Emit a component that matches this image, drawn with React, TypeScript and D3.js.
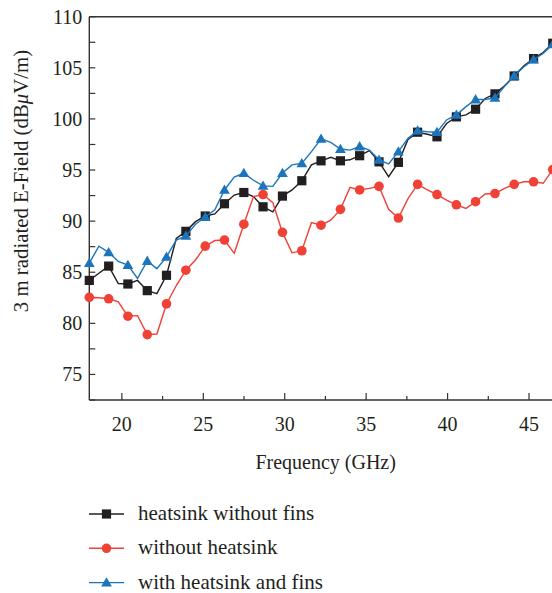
import React from "react";
import * as d3 from "d3";

// Frequency sample points (GHz)
const freqs = [
  18.0, 18.59, 19.19, 19.78, 20.37, 20.96, 21.56, 22.15, 22.74, 23.34,
  23.93, 24.52, 25.12, 25.71, 26.3, 26.9, 27.49, 28.08, 28.67, 29.27,
  29.86, 30.45, 31.05, 31.64, 32.23, 32.83, 33.42, 34.01, 34.6, 35.2,
  35.79, 36.38, 36.98, 37.57, 38.16, 38.76, 39.35, 39.94, 40.54, 41.13,
  41.72, 42.31, 42.91, 43.5, 44.09, 44.69, 45.28, 45.87, 46.46,
];

// Radiated E-field, dBμV/m
const heatsinkWithoutFins = [
  84.2, 84.9, 85.6, 83.9, 83.85, 84.2, 83.2, 82.9, 84.7, 88.3,
  89.0, 89.95, 90.5, 90.7, 91.7, 92.55, 92.8, 92.4, 91.4, 90.9,
  92.45, 93.05, 93.95, 95.5, 95.9, 96.25, 95.9, 96.0, 96.4, 96.9,
  95.8, 94.35, 95.75, 98.0, 98.7, 98.5, 98.25, 99.55, 100.2, 100.4,
  100.95, 102.0, 102.45, 103.25, 104.2, 105.2, 105.9, 106.5, 107.4,
];

const withoutHeatsink = [
  82.55, 82.5, 82.4, 82.1, 80.7, 80.75, 78.9, 78.95, 81.9, 83.7,
  85.2, 86.2, 87.55, 88.1, 88.15, 86.85, 89.7, 92.4, 92.6, 91.8,
  88.9, 86.9, 87.1, 89.85, 89.6, 90.1, 91.15, 93.3, 93.05, 93.2,
  93.4, 91.15, 90.3, 92.2, 93.6, 93.05, 92.6, 92.05, 91.6, 91.25,
  91.9, 92.65, 92.7, 93.2, 93.6, 93.85, 93.85, 93.7, 95.05,
];

const withHeatsinkAndFins = [
  85.9, 87.55, 86.95, 86.05, 85.7, 84.4, 86.1, 85.35, 86.5, 88.15,
  88.55, 89.7, 90.4, 91.1, 93.05, 94.3, 94.7, 94.0, 93.45, 93.4,
  94.7, 95.5, 95.65, 96.8, 98.05, 97.7, 97.05, 96.95, 97.3, 96.95,
  96.0, 95.6, 96.8, 98.1, 98.85, 98.75, 98.7, 99.9, 100.4, 101.2,
  101.9, 101.9, 102.05, 103.2, 104.2, 105.1, 105.8, 106.4, 107.3,
];

const xTicks = [20, 25, 30, 35, 40, 45];
const xMinorTicks = [22.5, 27.5, 32.5, 37.5, 42.5];
const yTicks = [75, 80, 85, 90, 95, 100, 105, 110];
const yMinorTicks = [72.5, 77.5, 82.5, 87.5, 92.5, 97.5, 102.5, 107.5];

const seriesLabels = ["heatsink without fins", "without heatsink", "with heatsink and fins"];

type Marker = "square" | "circle" | "triangle";

const series: { name: string; values: number[]; color: string; marker: Marker }[] = [
  { name: seriesLabels[0], values: heatsinkWithoutFins, color: "#231f20", marker: "square" },
  { name: seriesLabels[1], values: withoutHeatsink, color: "#ef4136", marker: "circle" },
  { name: seriesLabels[2], values: withHeatsinkAndFins, color: "#1c75bc", marker: "triangle" },
];

const W = 552;
const H = 593;
const FONT = "'Liberation Serif', 'Times New Roman', serif";

const left = 89.3;
const top = 16.7;
const bottom = 400;

const x = d3.scaleLinear().domain([18, 45]).range([left, 529]);
const y = d3.scaleLinear().domain([72.5, 110]).range([bottom, top]);

function MarkerShape({ kind, cx, cy, color }: { kind: Marker; cx: number; cy: number; color: string }) {
  if (kind === "square") {
    return <rect x={cx - 4.6} y={cy - 4.6} width={9.2} height={9.2} fill={color} />;
  }
  if (kind === "circle") {
    return <circle cx={cx} cy={cy} r={4.8} fill={color} />;
  }
  const s = 5.4;
  return (
    <path
      d={`M${cx},${cy - s}L${cx + s},${cy + s * 0.72}L${cx - s},${cy + s * 0.72}Z`}
      fill={color}
    />
  );
}

export default function App() {
  const line = d3
    .line<number>()
    .x((_, i) => x(freqs[i]))
    .y((v) => y(v));

  const axisColor = "#333";

  return (
    <div style={{ position: "absolute", left: 0, top: 0 }}>
      <svg width={W} height={H} style={{ display: "block", background: "#fff" }}>
        {/* axes frame */}
        <line x1={left} x2={W} y1={top} y2={top} stroke={axisColor} strokeWidth={1.4} />
        <line x1={left} x2={left} y1={top} y2={bottom} stroke={axisColor} strokeWidth={1.4} />
        <line x1={left} x2={W} y1={bottom} y2={bottom} stroke={axisColor} strokeWidth={1.4} />

        {/* y ticks */}
        {yTicks.concat(yMinorTicks).map((t) => (
          <line key={"yt" + t} x1={left} x2={left + 6} y1={y(t)} y2={y(t)} stroke={axisColor} strokeWidth={1.2} />
        ))}
        {yTicks.map((t) => (
          <text
            key={"yl" + t}
            x={left - 7}
            y={y(t)}
            dy="0.35em"
            textAnchor="end"
            fontFamily={FONT}
            fontSize={20}
            fill="#231f20"
          >
            {t}
          </text>
        ))}

        {/* x ticks */}
        {xTicks.map((t) => (
          <line key={"xt" + t} x1={x(t)} x2={x(t)} y1={bottom} y2={bottom - 7} stroke={axisColor} strokeWidth={1.2} />
        ))}
        {xMinorTicks.map((t) => (
          <line key={"xm" + t} x1={x(t)} x2={x(t)} y1={bottom} y2={bottom - 4} stroke={axisColor} strokeWidth={1.2} />
        ))}
        {xTicks.map((t) => (
          <text
            key={"xl" + t}
            x={x(t)}
            y={bottom + 31}
            textAnchor="middle"
            fontFamily={FONT}
            fontSize={20}
            fill="#231f20"
          >
            {t}
          </text>
        ))}

        {/* axis titles */}
        <text
          x={(left + W) / 2 + 5}
          y={469}
          textAnchor="middle"
          fontFamily={FONT}
          fontSize={20}
          fill="#231f20"
        >
          Frequency (GHz)
        </text>
        <text
          transform="translate(28,181) rotate(-90)"
          textAnchor="middle"
          fontFamily={FONT}
          fontSize={20.8}
          fill="#231f20"
        >
          3 m radiated E-Field (dB<tspan fontStyle="italic">μ</tspan>V/m)
        </text>

        {/* series */}
        {series.map((s) => (
          <g key={s.name}>
            <path d={line(s.values) || ""} fill="none" stroke={s.color} strokeWidth={1.4} />
            {s.values.map((v, i) =>
              i % 2 === 0 ? (
                <MarkerShape key={i} kind={s.marker} cx={x(freqs[i])} cy={y(v)} color={s.color} />
              ) : null
            )}
          </g>
        ))}

        {/* legend */}
        {series.map((s, i) => {
          const ly = 514 + i * 34.3;
          return (
            <g key={"lg" + s.name}>
              <line x1={89} x2={124} y1={ly} y2={ly} stroke={s.color} strokeWidth={1.4} />
              <MarkerShape kind={s.marker} cx={106.5} cy={ly} color={s.color} />
              <text x={138} y={ly + 6} fontFamily={FONT} fontSize={21} fill="#231f20">
                {s.name}
              </text>
            </g>
          );
        })}
      </svg>
    </div>
  );
}
